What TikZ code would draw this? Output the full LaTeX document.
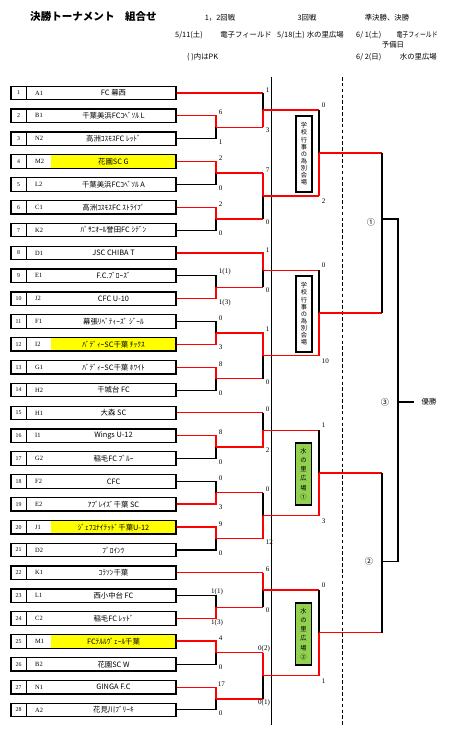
\documentclass[tikz,border=0pt]{standalone}
\usepackage{fontspec}
\setmainfont{Liberation Serif}
\newfontfamily\jp{Noto Sans CJK JP}
\usetikzlibrary{calc}
\definecolor{winred}{HTML}{FF0000}
\definecolor{hlyellow}{HTML}{FFFF00}
\definecolor{venue}{HTML}{92D050}

\begin{document}
\begin{tikzpicture}[x=0.3mm, y=-0.3mm,
  lose/.style={black, line width=0.9pt},
  win/.style={winred, line width=0.9pt},
  winb/.style={winred, line width=1.7pt},
  teambox/.style={draw, line width=1.1pt, minimum width=49.5mm, minimum height=4.05mm, inner sep=0pt},
  numtxt/.style={font=\fontsize{5}{5}\selectfont, inner sep=0pt},
  codetxt/.style={font=\fontsize{5.5}{5.5}\selectfont, anchor=west, inner sep=0pt},
  nametxt/.style={font=\jp\fontsize{6.3}{6.3}\selectfont, inner sep=0pt},
  scoreup/.style={font=\fontsize{6}{6}\selectfont, inner sep=0.6pt, anchor=south west},
  scoredn/.style={font=\fontsize{6}{6}\selectfont, inner sep=0.6pt, anchor=north west},
  headtxt/.style={font=\jp\fontsize{6.3}{7}\selectfont, inner sep=0pt},
  venuebox/.style={draw, line width=1.2pt, minimum width=4.8mm, align=center, inner sep=0pt},
]

% Background
\fill[white] (0,0) rectangle (461,734);
\useasboundingbox (0,0) rectangle (461,734);

% Heading
\node[font=\jp\bfseries\fontsize{9}{9}\selectfont, anchor=west, inner sep=0pt] (title) at (30,17) {決勝トーナメント\hspace{1em}組合せ};
\node[headtxt] (rd12) at (220,18) {1，2回戦};
\node[headtxt] (rd3) at (307,18) {3回戦};
\node[headtxt] (rdsf) at (387,18) {準決勝、決勝};
\node[headtxt, anchor=west] (day1) at (175,35) {5/11(土)};
\node[headtxt, anchor=east] (field1) at (272,35) {電子フィールド};
\node[headtxt, anchor=west] (day2) at (277,35) {5/18(土)};
\node[headtxt, anchor=east] (field2) at (344,35) {水の里広場};
\node[headtxt, anchor=west] (day3) at (356,35) {6/ 1(土)};
\node[headtxt, anchor=east] (field3) at (438,35) {\scalebox{0.8}[1]{電子フィールド}};
\node[headtxt] (spare) at (393,45) {予備日};
\node[headtxt, anchor=west] (pknote) at (187,57) {( )内はPK};
\node[headtxt, anchor=west] (day4) at (356,57) {6/ 2(日)};
\node[headtxt, anchor=east] (field4) at (437,57) {水の里広場};

% Round separators
\draw[line width=0.7pt] (271.5,77) -- (271.5,725);
\draw[line width=0.6pt, densely dashed] (342.5,77) -- (342.5,725);

% Teams
\foreach \i/\code/\name/\bg in {
  1/A1/FC 幕西/white, 2/B1/千葉美浜FCｺﾍﾞｿﾙ L/white, 3/N2/高洲ｺｽﾓｽFC ﾚｯﾄﾞ/white,
  4/M2/花園SC G/hlyellow, 5/L2/千葉美浜FCｺﾍﾞｿﾙ A/white, 6/C1/高洲ｺｽﾓｽFC ｽﾄﾗｲﾌﾟ/white,
  7/K2/ﾊﾟｻﾆｵｰﾙ誉田FC ｼﾃﾞﾝ/white, 8/D1/JSC CHIBA T/white, 9/E1/F.C.ﾌﾞﾛｰｽﾞ/white,
  10/J2/CFC U-10/white, 11/F1/幕張ﾘﾍﾞﾃｨｰｽﾞ ｼﾞｰﾙ/white, 12/I2/ﾊﾞﾃﾞｨｰSC千葉 ﾁｯｸｽ/hlyellow,
  13/G1/ﾊﾞﾃﾞｨｰSC千葉 ﾎﾜｲﾄ/white, 14/H2/千城台 FC/white, 15/H1/大森 SC/white,
  16/I1/Wings U-12/white, 17/G2/稲毛FC ﾌﾞﾙｰ/white, 18/F2/CFC/white,
  19/E2/ｱﾌﾞﾚｲｽﾞ千葉 SC/white, 20/J1/ｼﾞｪﾌﾕﾅｲﾃｯﾄﾞ千葉U-12/hlyellow, 21/D2/ﾌﾟﾛｲﾝﾂ/white,
  22/K1/ｺﾗｿﾝ千葉/white, 23/L1/西小中台 FC/white, 24/C2/稲毛FC ﾚｯﾄﾞ/white,
  25/M1/FCﾃﾙﾙｳﾞｪｰﾙ千葉/hlyellow, 26/B2/花園SC W/white, 27/N1/GINGA F.C/white,
  28/A2/花見川ﾌﾞﾘｰｷ/white} {
  \pgfmathsetmacro\ty{93+(\i-1)*22.85}
  \node[teambox, path picture={
      \fill[\bg] ($(path picture bounding box.north west)+(40,0)$) rectangle (path picture bounding box.south east);
      \draw[line width=0.6pt] ($(path picture bounding box.north west)+(15,0)$) -- ($(path picture bounding box.south west)+(15,0)$);
    }] (t\i) at (93.5,\ty) {};
  \node[numtxt] (n\i) at (18.5,\ty) {\i};
  \node[codetxt] (k\i) at (35,\ty) {\code};
  \node[nametxt] (m\i) at (113.5,\ty) {\name};
}

% Junctions: 1st round
\coordinate (a23) at (216,127.3);
\coordinate (a45) at (216,173.0);
\coordinate (a67) at (216,218.7);
\coordinate (a910) at (216,287.2);
\coordinate (a1112) at (216,332.9);
\coordinate (a1314) at (216,378.6);
\coordinate (a1617) at (216,447.2);
\coordinate (a1819) at (216,492.9);
\coordinate (a2021) at (216,538.6);
\coordinate (a2324) at (216,607.1);
\coordinate (a2526) at (216,652.8);
\coordinate (a2728) at (216,698.5);
% 2nd round
\coordinate (b1) at (263,110.2);
\coordinate (b2) at (263,195.9);
\coordinate (b3) at (263,270.1);
\coordinate (b4) at (263,355.8);
\coordinate (b5) at (263,430.1);
\coordinate (b6) at (263,515.8);
\coordinate (b7) at (263,590.0);
\coordinate (b8) at (263,675.7);
% 3rd round
\coordinate (c1) at (319,153.0);
\coordinate (c2) at (319,313.0);
\coordinate (c3) at (319,473.0);
\coordinate (c4) at (319,632.9);
% semi-finals, final
\coordinate (s1) at (382,219.0);
\coordinate (s2) at (382,561.7);
\coordinate (f) at (398,402.0);

% 1st round lines
\draw[win] (t2.east) -| (a23);    \draw[lose] (t3.east) -| (a23);
\draw[win] (t4.east) -| (a45);    \draw[lose] (t5.east) -| (a45);
\draw[win] (t6.east) -| (a67);    \draw[lose] (t7.east) -| (a67);
\draw[lose] (t9.east) -| (a910);  \draw[win] (t10.east) -| (a910);
\draw[lose] (t11.east) -| (a1112); \draw[win] (t12.east) -| (a1112);
\draw[win] (t13.east) -| (a1314); \draw[lose] (t14.east) -| (a1314);
\draw[win] (t16.east) -| (a1617); \draw[lose] (t17.east) -| (a1617);
\draw[lose] (t18.east) -| (a1819); \draw[winb] (t19.east) -| (a1819);
\draw[winb] (t20.east) -| (a2021); \draw[lose] (t21.east) -| (a2021);
\draw[lose] (t23.east) -| (a2324); \draw[win] (t24.east) -| (a2324);
\draw[winb] (t25.east) -| (a2526); \draw[lose] (t26.east) -| (a2526);
\draw[win] (t27.east) -| (a2728); \draw[lose] (t28.east) -| (a2728);

% 2nd round lines
\draw[win] (t1.east) -- (t1.east -| b1);  \draw[lose] (t1.east -| b1) -- (b1);
\draw[win] (a23) -- (a23 -| b1);          \draw[winb] (a23 -| b1) -- (b1);
\draw[win] (a45) -- (a45 -| b2);          \draw[winb] (a45 -| b2) -- (b2);
\draw[winb] (a67) -- (a67 -| b2);         \draw[lose] (a67 -| b2) -- (b2);
\draw[winb] (t8.east) -| (b3);
\draw[win] (a910) -- (a910 -| b3);        \draw[lose] (a910 -| b3) -- (b3);
\draw[winb] (a1112) -| (b4);
\draw[win] (a1314) -- (a1314 -| b4);      \draw[lose] (a1314 -| b4) -- (b4);
\draw[win] (t15.east) -- (t15.east -| b5); \draw[lose] (t15.east -| b5) -- (b5);
\draw[winb] (a1617) -| (b5);
\draw[win] (a1819) -- (a1819 -| b6);      \draw[lose] (a1819 -| b6) -- (b6);
\draw[win] (a2021) -- (a2021 -| b6);      \draw[winb] (a2021 -| b6) -- (b6);
\draw[win] (t22.east) -- (t22.east -| b7); \draw[winb] (t22.east -| b7) -- (b7);
\draw[win] (a2324) -- (a2324 -| b7);      \draw[lose] (a2324 -| b7) -- (b7);
\draw[win] (a2526) -- (a2526 -| b8);      \draw[winb] (a2526 -| b8) -- (b8);
\draw[winb] (a2728) -- (a2728 -| b8);     \draw[lose] (a2728 -| b8) -- (b8);

% 3rd round lines
\draw[winb] (b1) -- (b1 -| c1);  \draw[lose] (b1 -| c1) -- (c1);
\draw[winb] (b2) -- (b2 -| c1);  \draw[win] (b2 -| c1) -- (c1);
\draw[win] (b3) -- (b3 -| c2);   \draw[lose] (b3 -| c2) -- (c2);
\draw[win] (b4) -| (c2);
\draw[win] (b5) -- (b5 -| c3);   \draw[lose] (b5 -| c3) -- (c3);
\draw[win] (b6) -| (c3);
\draw[winb] (b7) -- (b7 -| c4);  \draw[lose] (b7 -| c4) -- (c4);
\draw[win] (b8) -| (c4);

% Semi-finals and final
\draw[win] (c1) -- (c1 -| s1);   \draw[winb] (c2) -- (c2 -| s1);
\draw[lose] (c1 -| s1) -- (c2 -| s1);
\draw[win] (c3) -- (c3 -| s2);   \draw[win] (c4) -- (c4 -| s2);
\draw[lose] (c3 -| s2) -- (c4 -| s2);
\draw[lose] (s1) -| (f);
\draw[lose] (s2) -| (f);
\node[headtxt, inner xsep=2.1mm] (champ) at (429,402) {優勝};
\draw[lose] (f) -- (champ);

% Match numbers
\node[font=\jp\fontsize{7}{7}\selectfont, inner sep=0pt] (q1) at (371,222) {①};
\node[font=\jp\fontsize{7}{7}\selectfont, inner sep=0pt] (q2) at (369,561) {②};
\node[font=\jp\fontsize{7}{7}\selectfont, inner sep=0pt] (q3) at (385,402) {③};

% Venue boxes
\node[venuebox, fill=white, minimum height=22.8mm, font=\jp\fontsize{5.3}{6.1}\selectfont] (vb1) at (304,154) {学\\校\\行\\事\\の\\為\\別\\会\\場};
\node[venuebox, fill=white, minimum height=22.8mm, font=\jp\fontsize{5.3}{6.1}\selectfont] (vb2) at (304,314) {学\\校\\行\\事\\の\\為\\別\\会\\場};
\node[venuebox, fill=venue, minimum height=18.6mm, font=\jp\fontsize{5.3}{7.9}\selectfont] (vb3) at (303.5,474) {水\\の\\里\\広\\場\\①};
\node[venuebox, fill=venue, minimum height=18.6mm, font=\jp\fontsize{5.3}{7.9}\selectfont] (vb4) at (303.5,634) {水\\の\\里\\広\\場\\②};

% Scores: 1st round
\node[scoreup] (a23u) at ($(a23 |- t2.east)+(2,0)$) {6};
\node[scoredn] (a23d) at ($(a23 |- t3.east)+(2,0)$) {1};
\node[scoreup] (a45u) at ($(a45 |- t4.east)+(2,0)$) {2};
\node[scoredn] (a45d) at ($(a45 |- t5.east)+(2,0)$) {0};
\node[scoreup] (a67u) at ($(a67 |- t6.east)+(2,0)$) {2};
\node[scoredn] (a67d) at ($(a67 |- t7.east)+(2,0)$) {0};
\node[scoreup] (a910u) at ($(a910 |- t9.east)+(2,0)$) {1(1)};
\node[scoredn] (a910d) at ($(a910 |- t10.east)+(2,0)$) {1(3)};
\node[scoreup] (a1112u) at ($(a1112 |- t11.east)+(2,0)$) {0};
\node[scoredn] (a1112d) at ($(a1112 |- t12.east)+(2,0)$) {3};
\node[scoreup] (a1314u) at ($(a1314 |- t13.east)+(2,0)$) {8};
\node[scoredn] (a1314d) at ($(a1314 |- t14.east)+(2,0)$) {0};
\node[scoreup] (a1617u) at ($(a1617 |- t16.east)+(2,0)$) {8};
\node[scoredn] (a1617d) at ($(a1617 |- t17.east)+(2,0)$) {0};
\node[scoreup] (a1819u) at ($(a1819 |- t18.east)+(2,0)$) {0};
\node[scoredn] (a1819d) at ($(a1819 |- t19.east)+(2,0)$) {3};
\node[scoreup] (a2021u) at ($(a2021 |- t20.east)+(2,0)$) {9};
\node[scoredn] (a2021d) at ($(a2021 |- t21.east)+(2,0)$) {0};
\node[scoreup, anchor=south] (a2324u) at ($(a2324 |- t23.east)+(1,0)$) {1(1)};
\node[scoredn, anchor=north] (a2324d) at ($(a2324 |- t24.east)+(1,0)$) {1(3)};
\node[scoreup] (a2526u) at ($(a2526 |- t25.east)+(2,0)$) {4};
\node[scoredn] (a2526d) at ($(a2526 |- t26.east)+(2,0)$) {0};
\node[scoreup] (a2728u) at ($(a2728 |- t27.east)+(1,0)$) {17};
\node[scoredn] (a2728d) at ($(a2728 |- t28.east)+(2,0)$) {0};

% Scores: 2nd round
\node[scoreup] (b1u) at ($(b1 |- t1.east)+(2,0)$) {1};
\node[scoredn] (b1d) at ($(b1 |- a23)+(2,0)$) {3};
\node[scoreup] (b2u) at ($(b2 |- a45)+(2,0)$) {7};
\node[scoredn] (b2d) at ($(b2 |- a67)+(2,0)$) {0};
\node[scoreup] (b3u) at ($(b3 |- t8.east)+(2,0)$) {1};
\node[scoredn] (b3d) at ($(b3 |- a910)+(2,0)$) {0};
\node[scoreup] (b4u) at ($(b4 |- a1112)+(2,0)$) {1};
\node[scoredn] (b4d) at ($(b4 |- a1314)+(2,0)$) {0};
\node[scoreup] (b5u) at ($(b5 |- t15.east)+(2,0)$) {0};
\node[scoredn] (b5d) at ($(b5 |- a1617)+(2,0)$) {2};
\node[scoreup] (b6u) at ($(b6 |- a1819)+(2,0)$) {0};
\node[scoredn] (b6d) at ($(b6 |- a2021)+(2,0)$) {12};
\node[scoreup] (b7u) at ($(b7 |- t22.east)+(2,0)$) {6};
\node[scoredn] (b7d) at ($(b7 |- a2324)+(2,0)$) {0};
\node[scoreup, anchor=south] (b8u) at ($(b8 |- a2526)+(1,0)$) {0(2)};
\node[scoredn, anchor=north] (b8d) at ($(b8 |- a2728)+(1,0)$) {0(1)};

% Scores: 3rd round
\node[scoreup] (c1u) at ($(c1 |- b1)+(2,-2)$) {0};
\node[scoredn] (c1d) at ($(c1 |- b2)+(2,2)$) {2};
\node[scoreup] (c2u) at ($(c2 |- b3)+(2,-2)$) {0};
\node[scoredn] (c2d) at ($(c2 |- b4)+(2,2)$) {10};
\node[scoreup] (c3u) at ($(c3 |- b5)+(2,-2)$) {1};
\node[scoredn] (c3d) at ($(c3 |- b6)+(2,2)$) {3};
\node[scoreup] (c4u) at ($(c4 |- b7)+(2,-2)$) {0};
\node[scoredn] (c4d) at ($(c4 |- b8)+(2,2)$) {1};

\end{tikzpicture}
\end{document}
